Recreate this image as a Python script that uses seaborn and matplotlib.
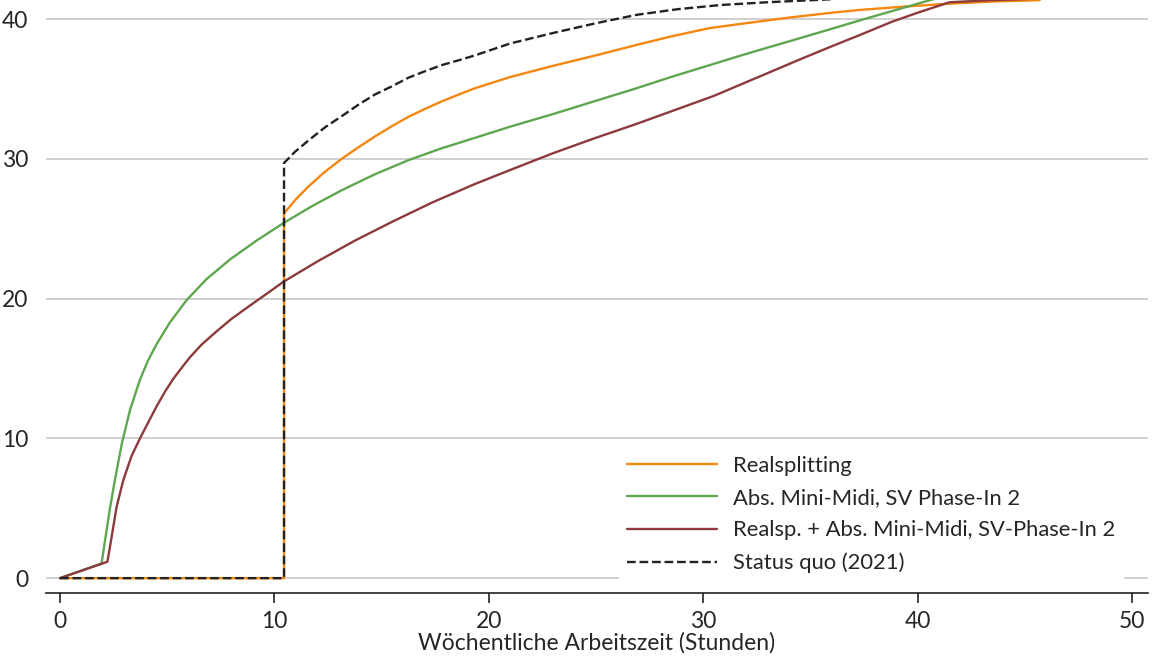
import matplotlib
matplotlib.use("Agg")
import matplotlib.pyplot as plt
import seaborn as sns
import pandas as pd

# Wöchentliche Arbeitszeit (x) vs. Nettoeinkommen (y)
real_x = [0, 10.45, 10.45, 11.0, 11.58, 12.3, 13.14, 13.9, 14.69, 15.5, 16.25, 17.0, 17.8,
          18.6, 19.36, 21.0, 23.0, 25.0, 26.9, 28.5, 30.3, 32.0, 34.0, 36.0, 37.3, 39.5,
          41.5, 43.5, 45.7]
real_y = [0, 0, 26.1, 27.1, 28.0, 29.0, 30.0, 30.8, 31.6, 32.35, 33.0, 33.55, 34.1,
          34.6, 35.05, 35.85, 36.65, 37.4, 38.15, 38.75, 39.35, 39.7, 40.1, 40.45, 40.65, 40.9,
          41.1, 41.25, 41.35]

mini_x = [0, 1.94, 2.1, 2.33, 2.57, 2.88, 3.26, 3.73, 4.1, 4.51, 5.13, 5.91, 6.84, 7.93,
          9.17, 10.42, 11.8, 13.14, 14.7, 16.25, 17.8, 19.36, 21.0, 23.0, 25.0, 26.9, 28.5,
          30.3, 32.0, 34.0, 36.0, 37.3, 39.0, 40.7, 43.0, 45.5]
mini_y = [0, 1.05, 2.7, 5.0, 7.1, 9.6, 12.0, 14.2, 15.55, 16.75, 18.3, 19.9, 21.4, 22.8,
          24.15, 25.4, 26.65, 27.75, 28.9, 29.9, 30.75, 31.5, 32.3, 33.2, 34.15, 35.05, 35.85,
          36.7, 37.5, 38.4, 39.3, 39.9, 40.65, 41.4, 42.4, 43.4]

komb_x = [0, 2.21, 2.41, 2.64, 2.95, 3.34, 3.73, 4.1, 4.51, 4.9, 5.28, 5.7, 6.06, 6.6,
          7.3, 8.0, 8.86, 9.6, 10.42, 12.0, 13.76, 15.5, 17.4, 19.36, 21.0, 23.0, 24.9, 26.9,
          28.7, 30.5, 32.5, 34.5, 36.0, 37.3, 38.8, 40.1, 41.5, 43.5, 45.5]
komb_y = [0, 1.17, 2.96, 5.1, 7.0, 8.75, 10.0, 11.1, 12.3, 13.35, 14.25, 15.1, 15.8, 16.7,
          17.65, 18.55, 19.5, 20.3, 21.2, 22.65, 24.15, 25.5, 26.9, 28.2, 29.2, 30.4, 31.45, 32.5,
          33.5, 34.5, 35.8, 37.1, 38.05, 38.85, 39.8, 40.5, 41.2, 41.35, 41.45]

sq_x = [0, 10.45, 10.45, 10.96, 11.58, 12.36, 13.14, 13.9, 14.69, 15.5, 16.25, 17.0, 17.8,
        18.6, 19.36, 21.0, 23.0, 25.0, 26.9, 28.8, 30.8, 33.0, 35.8, 40.0, 45.0]
sq_y = [0, 0, 29.7, 30.5, 31.3, 32.25, 33.05, 33.85, 34.6, 35.2, 35.8, 36.25, 36.7,
        37.05, 37.4, 38.25, 39.0, 39.7, 40.3, 40.7, 41.0, 41.2, 41.4, 41.8, 42.2]

labels = ["Realsplitting", "Abs. Mini-Midi, SV Phase-In 2",
          "Realsp. + Abs. Mini-Midi, SV-Phase-In 2", "Status quo (2021)"]
x_ticks = [0, 10, 20, 30, 40, 50]
y_ticks = [0, 10, 20, 30, 40]

sns.set_theme(style="white")
plt.rcParams['font.family'] = ['Lato', 'DejaVu Sans']

fig, ax = plt.subplots(figsize=(11.52, 6.59), dpi=100)
fig.subplots_adjust(left=0.04, right=0.9965, top=1.0, bottom=0.1)

series = [
    (real_x, real_y, "#f5870f", "-"),
    (mini_x, mini_y, "#5ea650", "-"),
    (komb_x, komb_y, "#8c3a3d", "-"),
    (sq_x, sq_y, "#222222", "--"),
]
for (xs, ys, col, ls), lab in zip(series, labels):
    df = pd.DataFrame({"x": xs, "y": ys})
    sns.lineplot(data=df, x="x", y="y", sort=False, estimator=None, color=col,
                 linestyle=ls, linewidth=1.7, label=lab, ax=ax)

ax.set_xlim(-0.65, 50.75)
ax.set_ylim(-1.07, 41.36)
ax.set_xticks(x_ticks)
ax.set_yticks(y_ticks)
ax.yaxis.grid(True, color="#c8c8c8", linewidth=1.2)
ax.xaxis.grid(False)
ax.set_axisbelow(True)
for s in ["left", "top", "right"]:
    ax.spines[s].set_visible(False)
ax.spines["bottom"].set_color("#222222")
ax.spines["bottom"].set_linewidth(1.2)
ax.tick_params(axis="x", bottom=True, length=7, width=1.2, color="#222222",
               labelsize=16.5, pad=6)
ax.tick_params(axis="y", left=False, labelsize=16.5, pad=7)
ax.set_xlabel("Wöchentliche Arbeitszeit (Stunden)", fontsize=16.5, va="center")
ax.xaxis.set_label_coords(0.5, -50 / 593)
ax.set_ylabel("")

leg = ax.legend(loc="lower right", bbox_to_anchor=(0.978, 0.0185), fontsize=15.8,
                frameon=True, framealpha=1, edgecolor="white", fancybox=False,
                borderaxespad=0, handlelength=4.1, handletextpad=0.7, labelspacing=0.56)
leg.get_frame().set_linewidth(0)

fig.savefig("out.png", dpi=100)
